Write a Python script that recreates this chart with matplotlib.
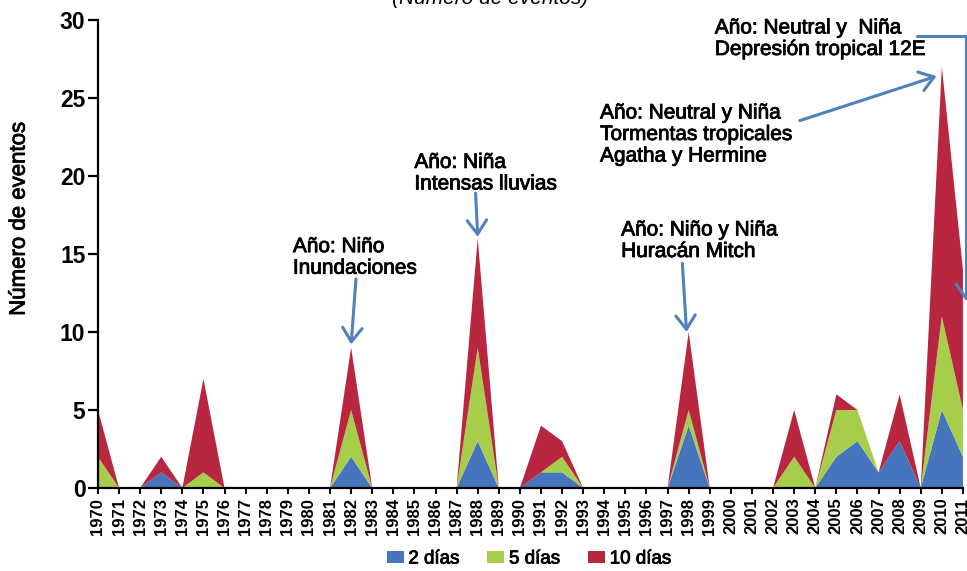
import matplotlib
matplotlib.use("Agg")
import matplotlib.pyplot as plt
import matplotlib.patheffects as pe
from matplotlib.patches import Patch

plt.rcParams['font.family'] = ['Liberation Sans', 'DejaVu Sans']

# Eventos por año y duración (incrementos apilados)
years = list(range(1970, 2012))
dos_dias = [0, 0, 0, 1, 0, 0, 0, 0, 0, 0, 0, 0, 2, 0, 0, 0, 0, 0, 3, 0, 0,
            1, 1, 0, 0, 0, 0, 0, 4, 0, 0, 0, 0, 0, 0, 2, 3, 1, 3, 0, 5, 2]
cinco_dias = [2, 0, 0, 0, 0, 1, 0, 0, 0, 0, 0, 0, 3, 0, 0, 0, 0, 0, 6, 0, 0,
              0, 1, 0, 0, 0, 0, 0, 1, 0, 0, 0, 0, 2, 0, 3, 2, 0, 0, 0, 6, 3]
diez_dias = [3, 0, 0, 1, 0, 6, 0, 0, 0, 0, 0, 0, 4, 0, 0, 0, 0, 0, 7, 0, 0,
             3, 1, 0, 0, 0, 0, 0, 5, 0, 0, 0, 0, 3, 0, 1, 0, 0, 3, 0, 16, 9]
series_labels = ['2 días', '5 días', '10 días']
colors = ['#4674BD', '#A6CE4B', '#B8263F']
arrow_color = '#4F81BD'

# trazo fino para engrosar un poco el texto normal
medium = [pe.withStroke(linewidth=0.6, foreground='black')]

fig = plt.figure(figsize=(9.67, 5.71), dpi=100)
ax = fig.add_axes([0.1013, 0.1454, 0.8945, 0.8196])

ax.stackplot(years, dos_dias, cinco_dias, diez_dias, colors=colors, linewidth=0)

ax.set_xlim(1970, 2011)
ax.set_ylim(0, 30)
ax.set_yticks(range(0, 31, 5))
ax.set_xticks(years)
ax.set_xticklabels([str(y) for y in years], rotation=90, fontsize=12,
                   fontweight='bold')
for lbl in ax.get_yticklabels():
    lbl.set_fontsize(16.5)
    lbl.set_fontweight('bold')

for side in ['top', 'right']:
    ax.spines[side].set_visible(False)
for side in ['left', 'bottom']:
    ax.spines[side].set_linewidth(1.6)
ax.tick_params(axis='y', length=7, width=1.6, pad=2)
ax.tick_params(axis='x', length=4, width=1.4, pad=3)

ax.set_ylabel('Número de eventos', fontsize=16, path_effects=medium)
ax.yaxis.set_label_coords(-0.079, 0.575)

fig.text(0.507, 1.003, '(Número de eventos)', ha='center', va='center',
         fontsize=15, style='italic')

# Notas sobre los años de mayor número de eventos
notes = [
    (1979.24, 16.08, 'Año: Niño\nInundaciones'),
    (1985.0, 21.48, 'Año: Niña\nIntensas lluvias'),
    (1994.8, 17.15, 'Año: Niño y Niña\nHuracán Mitch'),
    (1993.8, 24.65, 'Año: Neutral y Niña\nTormentas tropicales\nAgatha y Hermine'),
    (1999.24, 30.1, 'Año: Neutral y  Niña\nDepresión tropical 12E'),
]
for x, y, txt in notes:
    ax.text(x, y, txt, ha='left', va='top', fontsize=15, linespacing=1.17,
            clip_on=False, path_effects=medium)

arrow_kw = dict(arrowstyle='->,head_length=0.5,head_width=0.35',
                color=arrow_color, lw=2.2, mutation_scale=20,
                shrinkA=0, shrinkB=0)
arrows = [
    ((1982.0, 9.2), (1982.23, 13.4)),
    ((1988.0, 16.1), (1987.9, 18.9)),
    ((1997.9, 10.0), (1997.7, 14.4)),
    ((2009.75, 26.4), (2003.27, 23.55)),
]
for xy, xytext in arrows:
    ax.annotate('', xy=xy, xytext=xytext, arrowprops=arrow_kw,
                annotation_clip=False)

bracket_kw = dict(arrow_kw, connectionstyle='angle,angleA=0,angleB=90,rad=0')
ax.annotate('', xy=(2011.14, 12.0), xytext=(2008.8, 28.97),
            arrowprops=bracket_kw, annotation_clip=False)

handles = [Patch(facecolor=c, edgecolor='none') for c in colors]
leg = fig.legend(handles, series_labels, loc='center',
                 bbox_to_anchor=(0.547, 0.021), ncol=3, frameon=False,
                 fontsize=13.5, handlelength=0.9, handleheight=0.65,
                 handletextpad=0.25, columnspacing=1.5, borderpad=0,
                 borderaxespad=0)
for t in leg.get_texts():
    t.set_path_effects(medium)

fig.savefig('out.png', dpi=100)
